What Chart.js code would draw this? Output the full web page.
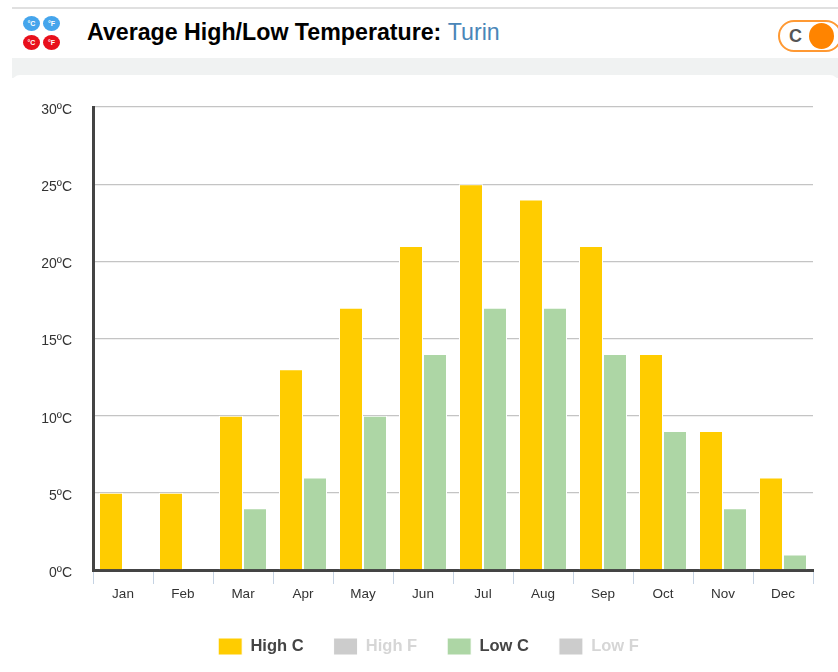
<!DOCTYPE html>
<html><head><meta charset="utf-8">
<style>
html,body{margin:0;padding:0;background:#fff;width:838px;height:672px;overflow:hidden;font-family:"Liberation Sans",Arial,sans-serif}
#wrap{position:relative;width:838px;height:672px;overflow:hidden}
#wrap>div{position:absolute}
.topline{left:12px;top:7px;width:826px;height:2px;background:#e0e0e0}
.band{left:12px;top:58px;width:826px;height:20px;background:#f0f2f2}
.card{left:12px;top:75px;width:826px;height:600px;background:#fff;border-radius:8px 8px 0 0}
.ic{width:17px;height:15px;border-radius:50%;color:#fff;font-size:7px;font-weight:bold;line-height:15px;text-align:center}
.title{left:87px;top:18px;font-size:23.2px;font-weight:bold;color:#000;white-space:nowrap;line-height:28px}
.title span{font-weight:normal;color:#4a86b8}
.toggle{left:778px;top:20px;width:64px;height:32px;border:2px solid #ff9933;border-radius:16px;box-sizing:border-box;background:#fff}
.toggle b{position:absolute;left:9px;top:4px;font-size:18px;line-height:20px;color:#555}
.toggle i{position:absolute;left:29px;top:1px;width:25px;height:26px;border-radius:50%;background:#ff8400}
canvas{position:absolute;left:0;top:0}
</style></head>
<body><div id="wrap">
<div class="topline"></div>
<div class="ic" style="left:23px;top:16px;background:#45a5ec">°C</div>
<div class="ic" style="left:43px;top:16px;background:#45a5ec">°F</div>
<div class="ic" style="left:23px;top:35px;background:#e8101c">°C</div>
<div class="ic" style="left:43px;top:35px;background:#e8101c">°F</div>
<div class="title">Average High/Low Temperature: <span>Turin</span></div>
<div class="toggle"><b>C</b><i></i></div>
<div class="band"></div>
<div class="card"></div>
<canvas id="c" width="838" height="665"></canvas>
</div>
<script src="https://cdn.jsdelivr.net/npm/chart.js@4"></script>
<script>
const months = ["Jan","Feb","Mar","Apr","May","Jun","Jul","Aug","Sep","Oct","Nov","Dec"];
const highC = [5,5,10,13,17,21,25,24,21,14,9,6];
const highF = [41,41,50,55,63,70,77,75,70,57,48,43];
const lowC = [0,0,4,6,10,14,17,17,14,9,4,1];
const lowF = [32,32,39,43,50,57,63,63,57,48,39,34];
const yTicks = [0,5,10,15,20,25,30];
const YELLOW="#ffcc00", GREEN="#add6a5", GREY="#cccccc";
const ds=(label,data,color,hidden)=>({label,data,backgroundColor:color,borderColor:"#fff",borderWidth:1,hidden,
  categoryPercentage:0.8,barPercentage:1});
const shiftLegend={id:"shiftLegend",afterLayout(chart){chart.legend.left+=22;chart.legend.right+=22;}};
new Chart(document.getElementById("c"),{
  type:"bar",
  plugins:[shiftLegend],
  data:{labels:months,datasets:[
    ds("High C",highC,YELLOW,false),
    ds("High F",highF,GREY,true),
    ds("Low C",lowC,GREEN,false),
    ds("Low F",lowF,GREY,true)
  ]},
  options:{
    responsive:false,animation:false,
    layout:{padding:{top:107,right:25,left:0,bottom:0}},
    scales:{
      x:{
        grid:{display:true,drawOnChartArea:false,color:"#c5d3e3",lineWidth:1,tickLength:14},
        border:{color:"#444",width:3},
        ticks:{color:"#333",font:{size:13.5,family:"'Liberation Sans',Arial"},padding:2,maxRotation:0},
        afterFit(s){s.height=38;}
      },
      y:{
        min:0,max:30,
        afterBuildTicks(s){s.ticks=yTicks.map(v=>({value:v}));},
        grid:{color:"#c4c4c4",lineWidth:1.3,drawTicks:false},
        border:{color:"#444",width:3},
        ticks:{color:"#333",font:{size:14,family:"'Liberation Sans',Arial"},padding:21,labelOffset:3,
          callback:v=>v+"ºC"},
        afterFit(s){s.width=93;}
      }
    },
    plugins:{
      title:{display:false},
      tooltip:{enabled:false},
      legend:{
        position:"bottom",
        onClick(){},
        labels:{
          boxWidth:24,boxHeight:17,padding:30,
          font:{size:16.5,weight:"bold",family:"'Liberation Sans',Arial"},
          generateLabels(chart){
            return chart.data.datasets.map((d,i)=>({
              text:d.label,fillStyle:d.backgroundColor,strokeStyle:"#fff",lineWidth:1,hidden:false,
              fontColor:d.hidden?"#d6d6d6":"#444",datasetIndex:i
            }));
          }
        }
      }
    }
  }
});
</script>
</body></html>
